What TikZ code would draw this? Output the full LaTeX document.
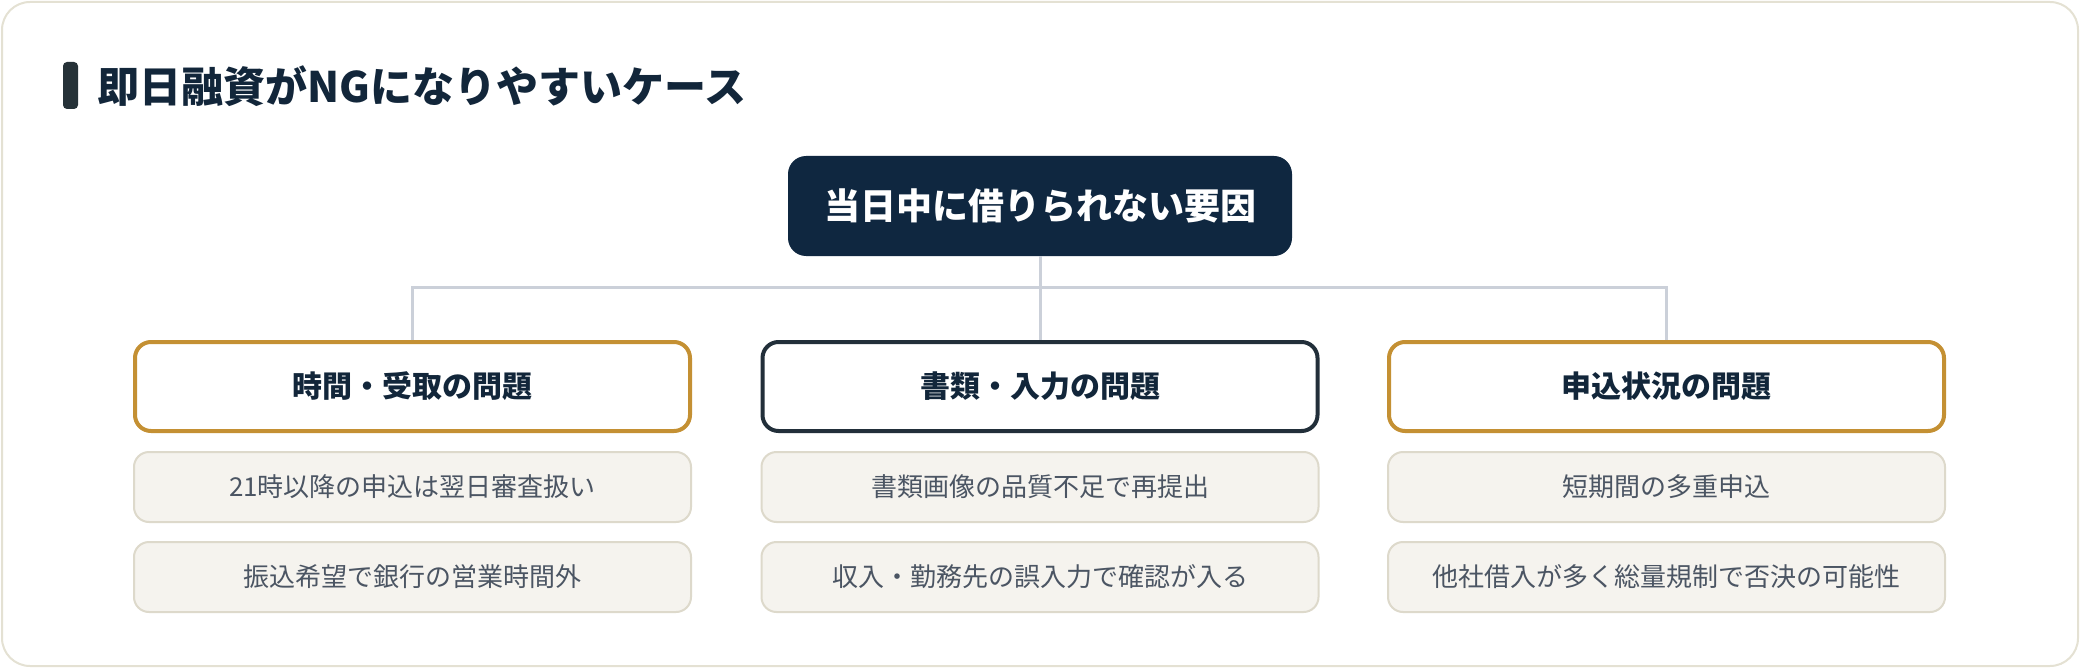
\documentclass[tikz,border=0pt]{standalone}
\usepackage{fontspec}
\setmainfont{Noto Sans CJK JP}
\definecolor{frameline}{HTML}{E4E1D3}
\definecolor{titlebar}{HTML}{263238}
\definecolor{navy}{HTML}{12263A}
\definecolor{ctrfill}{HTML}{0F2740}
\definecolor{gold}{HTML}{C49033}
\definecolor{darkline}{HTML}{222F3A}
\definecolor{conn}{HTML}{CBD0D9}
\definecolor{itemfill}{HTML}{F5F3EE}
\definecolor{itemline}{HTML}{DDD9CB}
\definecolor{itemtext}{HTML}{4B5563}
\tikzset{
  ctrbox/.style={rectangle, rounded corners=9pt, fill=ctrfill, text=white,
    minimum width=252pt, minimum height=50pt, inner sep=0pt,
    font=\fontsize{18pt}{22pt}\selectfont\bfseries},
  catbox/.style={rectangle, rounded corners=8pt, fill=white, line width=2pt,
    minimum width=277.5pt, minimum height=44.5pt, inner sep=0pt, text=navy,
    font=\fontsize{15pt}{18pt}\selectfont\bfseries},
  itembox/.style={rectangle, rounded corners=7.5pt, fill=itemfill, draw=itemline,
    line width=1pt, minimum width=278.5pt, minimum height=35pt, inner sep=0pt,
    text=itemtext, font=\fontsize{13pt}{16pt}\selectfont},
  connline/.style={draw=conn, line width=1.5pt},
}
\begin{document}
\begin{tikzpicture}[x=0.5pt, y=-0.5pt]
\useasboundingbox (0,0) rectangle (2080,668);
\draw[frameline, line width=1pt, fill=white, rounded corners=14pt] (2,2) rectangle (2078,666);
\fill[titlebar, rounded corners=2pt] (63,62) rectangle (78,109);
\node[anchor=west, inner sep=0pt, text=navy, font=\fontsize{21pt}{25pt}\selectfont\bfseries] (title) at (97,86) {即日融資がNGになりやすいケース};

\node[ctrbox] (ctr) at (1040,206) {当日中に借りられない要因};

\node[catbox, draw=gold] (cat1) at (412.5,386.5) {時間・受取の問題};
\node[catbox, draw=darkline] (cat2) at (1040,386.5) {書類・入力の問題};
\node[catbox, draw=gold] (cat3) at (1666.5,386.5) {申込状況の問題};

\coordinate (bus) at (1040,287);
\draw[connline] (ctr.south) -- (cat2.north);
\draw[connline] (cat1.north) -- (cat1.north |- bus) -- (cat3.north |- bus) -- (cat3.north);

\node[itembox] (i11) at (412.5,487) {21時以降の申込は翌日審査扱い};
\node[itembox] (i12) at (412.5,577) {振込希望で銀行の営業時間外};
\node[itembox] (i21) at (1040,487) {書類画像の品質不足で再提出};
\node[itembox] (i22) at (1040,577) {収入・勤務先の誤入力で確認が入る};
\node[itembox] (i31) at (1666.5,487) {短期間の多重申込};
\node[itembox] (i32) at (1666.5,577) {他社借入が多く総量規制で否決の可能性};
\end{tikzpicture}
\end{document}
